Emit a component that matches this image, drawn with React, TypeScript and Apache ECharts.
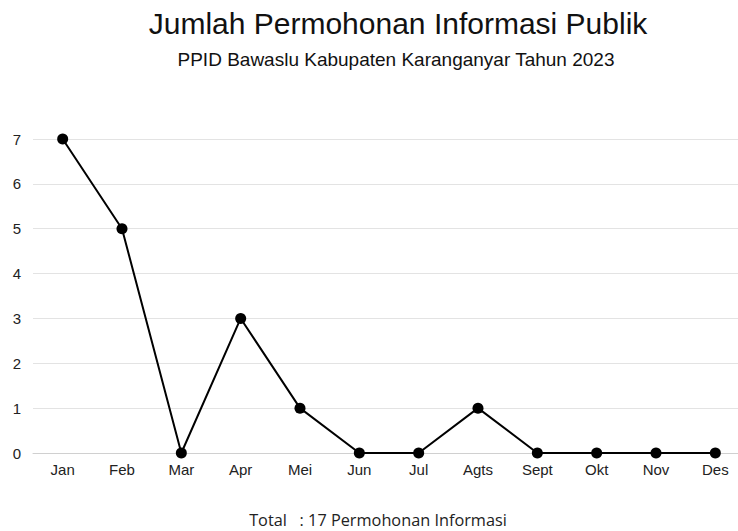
import React, { useEffect, useRef } from "react";
import * as echarts from "echarts";

const months = ["Jan", "Feb", "Mar", "Apr", "Mei", "Jun", "Jul", "Agts", "Sept", "Okt", "Nov", "Des"];
const requests = [7, 5, 0, 3, 1, 0, 0, 1, 0, 0, 0, 0];
const yTicks = { min: 0, max: 7, interval: 1 };
const titleText = "Jumlah Permohonan Informasi Publik";
const subtitleText = "PPID Bawaslu Kabupaten Karanganyar Tahun 2023";
const footerText = "Total   : 17 Permohonan Informasi";

export default function App() {
  const ref = useRef<HTMLDivElement>(null);
  useEffect(() => {
    if (!ref.current) return;
    const chart = echarts.init(ref.current, null, { renderer: "svg" });
    chart.setOption({
      animation: false,
      backgroundColor: "#ffffff",
      graphic: [
        {
          type: "text",
          x: 398,
          y: 23,
          style: {
            text: titleText,
            fontFamily: "Liberation Sans",
            fontSize: 30,
            fill: "#111",
            align: "center",
            verticalAlign: "middle",
          },
        },
        {
          type: "text",
          x: 396,
          y: 59,
          style: {
            text: subtitleText,
            fontFamily: "Liberation Sans",
            fontSize: 19,
            fill: "#111",
            align: "center",
            verticalAlign: "middle",
          },
        },
        {
          type: "text",
          x: 378,
          y: 520,
          style: {
            text: footerText,
            fontFamily: "Open Sans",
            fontSize: 16.3,
            fill: "#222",
            align: "center",
            verticalAlign: "middle",
          },
        },
      ],
      grid: { left: 33, right: 0, top: 139, bottom: 78, containLabel: false },
      xAxis: {
        type: "category",
        data: months,
        boundaryGap: true,
        axisLine: { show: true, lineStyle: { color: "#d0d0d0", width: 1 } },
        axisTick: { show: false },
        axisLabel: { margin: 9, fontFamily: "Liberation Sans", fontSize: 15, color: "#222" },
      },
      yAxis: {
        type: "value",
        min: yTicks.min,
        max: yTicks.max,
        interval: yTicks.interval,
        axisLine: { show: false },
        axisTick: { show: false },
        axisLabel: { margin: 12, fontFamily: "Liberation Sans", fontSize: 15, color: "#222" },
        splitLine: { lineStyle: { color: "#e3e3e3", width: 1 } },
      },
      series: [
        {
          type: "line",
          data: requests,
          symbol: "circle",
          symbolSize: 11,
          lineStyle: { color: "#000", width: 2 },
          itemStyle: { color: "#000" },
        },
      ],
    });
    return () => chart.dispose();
  }, []);
  return (
    <div style={{ position: "absolute", left: 0, top: 0, width: 738, height: 531, overflow: "hidden", background: "#fff" }}>
      <div ref={ref} style={{ width: 745, height: 531 }} />
    </div>
  );
}
